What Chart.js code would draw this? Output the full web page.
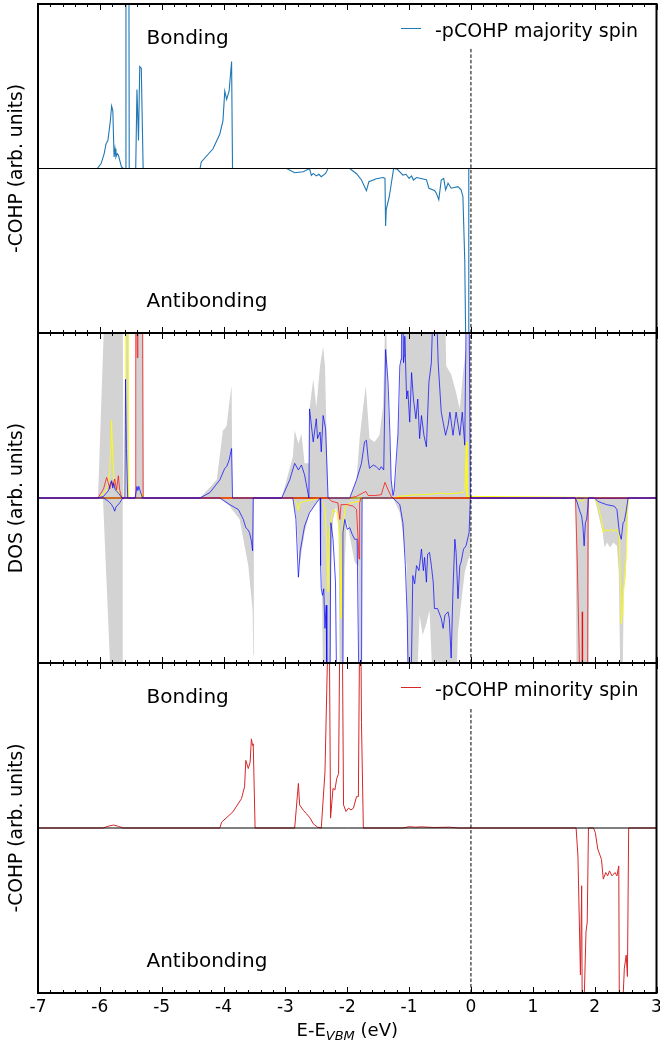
<!DOCTYPE html>
<html>
<head>
<meta charset="utf-8">
<script src="https://cdn.jsdelivr.net/npm/chart.js@4.4.0/dist/chart.umd.min.js"></script>
<style>
  body { margin: 0; background: #fff; }
  #wrap { position: relative; width: 660px; height: 1047px; }
  .panel { position: absolute; left: 0; width: 660px; }
</style>
</head>
<body>
<div id="wrap">
  <div class="panel" style="top:0;height:340px"><canvas id="cohpUpChart" width="660" height="340"></canvas></div>
  <div class="panel" style="top:326px;height:344px"><canvas id="dosChart" width="660" height="344"></canvas></div>
  <div class="panel" style="top:656px;height:391px"><canvas id="cohpDnChart" width="660" height="391"></canvas></div>
</div>
<script>
const FONT = 'DejaVu Sans';
const energyTicks = [-7, -6, -5, -4, -3, -2, -1, 0, 1, 2, 3];
const yRange = [-10, 10];   // arb. units, zero in the middle of each panel

// -pCOHP majority spin  [E, value]
const cohpUp = [
  [-7, 0], [-6.04, 0], [-5.98, 0.3], [-5.93, 0.9], [-5.90, 1.5], [-5.87, 1.7], [-5.83, 2.9], [-5.81, 3.8],
  [-5.79, 3.5], [-5.77, 0.7], [-5.755, 1.2], [-5.74, 0.7], [-5.72, 0.9], [-5.70, 0.8], [-5.65, 0.1], [-5.62, 0],
  [-5.585, 0], [-5.578, 12], [-5.53, 12], [-5.525, 0], [-5.42, 0], [-5.40, 4.8], [-5.375, 1.7], [-5.355, 6.2],
  [-5.33, 6.1], [-5.30, 0], [-4.38, 0], [-4.36, 0.4], [-4.17, 1.2], [-4.06, 2.1], [-4.01, 2.9], [-3.98, 4.7],
  [-3.95, 4.2], [-3.91, 4.7], [-3.87, 6.5], [-3.855, 0], [-2.98, 0], [-2.85, -0.26], [-2.71, -0.2], [-2.61, 0],
  [-2.58, -0.42], [-2.55, -0.3], [-2.50, -0.45], [-2.46, -0.35], [-2.42, -0.5], [-2.35, -0.3], [-2.31, 0],
  [-1.96, 0], [-1.85, -0.32], [-1.77, -0.7], [-1.69, -1.35], [-1.65, -0.8], [-1.53, -0.62], [-1.42, -0.55],
  [-1.39, -0.6], [-1.38, -3.5], [-1.37, -2.5], [-1.32, -1.7], [-1.25, 0], [-1.19, -0.05], [-1.10, -0.4],
  [-1.05, -0.35], [-1.00, -0.6], [-0.96, -0.45], [-0.93, -0.7], [-0.88, -0.55], [-0.72, -0.68], [-0.68, -1.2],
  [-0.59, -1.33], [-0.56, -1.5], [-0.52, -1.9], [-0.48, -0.7], [-0.44, -0.6], [-0.41, -1.3], [-0.37, -0.9],
  [-0.32, -1.2], [-0.21, -1.1], [-0.16, -1.3], [-0.13, -1.7], [-0.10, -5.6], [-0.08, -12], [-0.04, -12],
  [-0.035, 0], [3, 0]
];

// -pCOHP minority spin
const cohpDn = [
  [-7, 0], [-5.95, 0], [-5.85, 0.12], [-5.78, 0.18], [-5.70, 0.1], [-5.62, 0], [-4.06, 0], [-4.03, 0.36],
  [-3.85, 0.97], [-3.71, 1.78], [-3.66, 2.5], [-3.64, 4.1], [-3.60, 3.6], [-3.57, 4.0], [-3.55, 5.4],
  [-3.53, 5.0], [-3.52, 5.1], [-3.49, 0], [-2.85, 0], [-2.79, 2.7], [-2.77, 1.4], [-2.71, 1.07], [-2.66, 0.87],
  [-2.60, 0.6], [-2.55, 0.26], [-2.48, 0.05], [-2.42, 0], [-2.36, 3.4], [-2.31, 12], [-2.29, 12], [-2.27, 0.6],
  [-2.23, 2.4], [-2.20, 2.3], [-2.17, 3.0], [-2.14, 3.3], [-2.12, 12], [-2.08, 12], [-2.06, 1.4], [-2.02, 1.0],
  [-1.98, 1.2], [-1.94, 1.1], [-1.90, 1.2], [-1.85, 1.9], [-1.82, 1.9], [-1.80, 12], [-1.78, 12], [-1.77, 6.4],
  [-1.74, 0], [-1.1, 0], [-1.0, 0.08], [-0.9, 0.05], [-0.8, 0.07], [-0.6, 0.03], [-0.35, 0.05], [-0.2, 0],
  [1.70, 0], [1.73, -1.7], [1.77, -8.9], [1.79, -3.5], [1.80, -12], [1.82, -12], [1.86, -6.3], [1.88, -5.7],
  [1.90, 0], [1.98, 0], [2.01, -0.26], [2.05, -1.27], [2.11, -1.9], [2.14, -3.1], [2.18, -2.7], [2.21, -2.9],
  [2.24, -2.6], [2.28, -2.9], [2.33, -2.7], [2.36, -2.9], [2.39, -2.3], [2.40, -12], [2.44, -12], [2.48, -8.5],
  [2.51, -7.7], [2.53, -9], [2.55, 0], [3, 0]
];

// total DOS (grey), majority up / minority down
const dosTotUp = [
  [-7, 0], [-6.03, 0], [-5.92, 12], [-5.63, 12], [-5.62, 0], [-5.59, 0], [-5.58, 12], [-5.535, 12], [-5.53, 0],
  [-5.43, 0], [-5.42, 12], [-5.30, 12], [-5.29, 0], [-4.38, 0], [-4.11, 1.1], [-4.01, 4.1], [-3.98, 4.2],
  [-3.95, 4.4], [-3.90, 6.0], [-3.87, 6.8], [-3.855, 0], [-3.06, 0], [-2.98, 1.1], [-2.88, 2.5], [-2.85, 4.1],
  [-2.79, 3.3], [-2.74, 3.9], [-2.69, 2.1], [-2.62, 2.1], [-2.61, 5.4], [-2.55, 7.2], [-2.50, 5.5], [-2.44, 8.0],
  [-2.39, 9.2], [-2.36, 8.0], [-2.31, 0], [-1.96, 0], [-1.85, 1.1], [-1.80, 3.6], [-1.74, 5.6], [-1.70, 6.8],
  [-1.64, 3.6], [-1.56, 3.4], [-1.48, 3.8], [-1.42, 5.6], [-1.38, 12], [-1.34, 6.0], [-1.29, 1.1], [-1.26, 0],
  [-1.21, 1.4], [-1.15, 6.0], [-1.12, 12], [-0.42, 12], [-0.40, 8.0], [-0.32, 7.5], [-0.24, 6.4], [-0.18, 5.4],
  [-0.13, 7.5], [-0.08, 9.0], [-0.05, 12], [-0.01, 12], [0, 0], [3, 0]
];
const dosTotDn = [
  [-7, 0], [-5.95, 0], [-5.83, -10.5], [-5.64, -12], [-5.63, 0], [-4.06, 0], [-3.90, -0.5], [-3.74, -1.3],
  [-3.66, -2.9], [-3.60, -4.1], [-3.53, -6.8], [-3.52, -9.5], [-3.51, 0], [-2.88, 0], [-2.82, -1.3],
  [-2.79, -3.1], [-2.77, -4.1], [-2.74, -3.3], [-2.69, -2.1], [-2.61, -0.9], [-2.50, -0.3], [-2.44, 0],
  [-2.42, -1.0], [-2.39, -12], [-2.27, -12], [-2.26, -4.1], [-2.23, -1.3], [-2.18, -0.5], [-2.14, -1.8],
  [-2.12, -12], [-2.07, -12], [-2.04, -4.1], [-2.01, -1.3], [-1.95, -2.5], [-1.88, -3.9], [-1.82, -4.1],
  [-1.80, -12], [-1.77, -12], [-1.76, 0], [-1.26, 0], [-1.15, -0.9], [-1.10, -2.1], [-1.04, -4.1], [-1.02, -12],
  [-0.88, -12], [-0.83, -7.1], [-0.78, -8.3], [-0.72, -7.6], [-0.67, -6.8], [-0.61, -12], [-0.24, -12],
  [-0.21, -8.1], [-0.15, -6.1], [-0.10, -4.5], [-0.04, -3.7], [-0.01, -3.5], [0, 0], [1.69, 0], [1.71, -12],
  [1.90, -12], [1.91, 0], [2.00, 0], [2.03, -0.5], [2.13, -2.1], [2.16, -3.0], [2.20, -2.7], [2.25, -3.0],
  [2.30, -2.7], [2.36, -2.9], [2.39, -4.5], [2.41, -9.6], [2.42, -12], [2.45, -12], [2.47, -5.6], [2.50, -4.8],
  [2.55, 0], [3, 0]
];

// projected DOS, blue
const pdosBlueUp = [
  [-7, 0], [-6.03, 0], [-5.94, 0.1], [-5.86, 0.45], [-5.83, 0.85], [-5.81, 1.05], [-5.79, 0.6], [-5.775, 0.9],
  [-5.75, 0.5], [-5.70, 0.3], [-5.64, 0], [-5.595, 0], [-5.585, 7.2], [-5.57, 3], [-5.55, 0], [-5.43, 0],
  [-5.40, 0.7], [-5.385, 0.45], [-5.37, 0.7], [-5.35, 0.45], [-5.31, 0], [-4.38, 0], [-4.22, 0.33],
  [-4.06, 1.1], [-3.98, 1.8], [-3.95, 1.9], [-3.91, 2.3], [-3.87, 3.0], [-3.855, 0], [-3.06, 0], [-2.93, 1.1],
  [-2.85, 2.1], [-2.79, 1.7], [-2.74, 2.0], [-2.69, 1.4], [-2.62, 0], [-2.61, 5.4], [-2.55, 3.4], [-2.50, 4.8],
  [-2.48, 3.6], [-2.44, 4.0], [-2.42, 2.8], [-2.39, 5.0], [-2.35, 4.2], [-2.31, 0], [-1.96, 0], [-1.85, 1.1],
  [-1.77, 2.1], [-1.72, 3.4], [-1.69, 3.5], [-1.66, 2.3], [-1.64, 1.8], [-1.58, 2.0], [-1.53, 1.9], [-1.48, 1.7],
  [-1.45, 1.9], [-1.41, 1.7], [-1.38, 9.0], [-1.34, 7.0], [-1.31, 3.9], [-1.29, 1.1], [-1.26, 0.15],
  [-1.24, 0.55], [-1.18, 3.9], [-1.15, 8.0], [-1.13, 8.4], [-1.12, 12], [-1.10, 12], [-1.09, 8.2], [-1.08, 8.6],
  [-1.07, 9.8], [-1.04, 6.0], [-1.02, 6.5], [-0.99, 4.6], [-0.96, 7.6], [-0.93, 6.0], [-0.89, 4.8], [-0.86, 6.0],
  [-0.83, 3.6], [-0.80, 5.0], [-0.76, 3.8], [-0.72, 3.1], [-0.68, 7.0], [-0.64, 8.2], [-0.61, 12], [-0.56, 12],
  [-0.53, 8.2], [-0.48, 5.2], [-0.45, 4.6], [-0.41, 3.8], [-0.37, 4.4], [-0.34, 5.2], [-0.29, 3.8], [-0.24, 5.2],
  [-0.18, 3.8], [-0.14, 5.2], [-0.10, 3.2], [-0.075, 12], [-0.03, 12], [-0.01, 0], [3, 0]
];
const pdosBlueDn = [
  [-7, 0], [-5.94, 0], [-5.86, -0.2], [-5.81, -0.4], [-5.78, -0.6], [-5.76, -0.8], [-5.74, -0.55],
  [-5.68, -0.3], [-5.63, 0], [-4.06, 0], [-3.90, -0.4], [-3.76, -0.7], [-3.68, -1.3], [-3.64, -1.8],
  [-3.61, -1.9], [-3.58, -2.1], [-3.55, -2.6], [-3.53, -3.2], [-3.52, 0], [-2.88, 0], [-2.83, -1.3],
  [-2.79, -4.8], [-2.76, -3.2], [-2.69, -1.7], [-2.61, -0.9], [-2.50, -0.3], [-2.44, 0], [-2.43, -4.1],
  [-2.42, -5.5], [-2.40, -5.9], [-2.38, -5.5], [-2.36, -7.9], [-2.34, -6.5], [-2.33, -12], [-2.28, -12],
  [-2.265, -1.5], [-2.23, -2.5], [-2.19, -5.1], [-2.17, -12], [-2.08, -12], [-2.07, -2.1], [-2.04, -1.3],
  [-2.00, -1.9], [-1.96, -1.8], [-1.92, -2.2], [-1.88, -2.5], [-1.84, -2.5], [-1.81, -12], [-1.77, -12],
  [-1.76, 0], [-1.26, 0], [-1.15, -0.4], [-1.10, -1.5], [-1.06, -4.1], [-1.03, -7.3], [-1.01, -12],
  [-0.97, -12], [-0.94, -4.7], [-0.91, -5.2], [-0.88, -4.1], [-0.84, -4.4], [-0.80, -3.1], [-0.77, -4.4],
  [-0.75, -3.6], [-0.72, -5.1], [-0.70, -3.4], [-0.67, -3.3], [-0.64, -4.1], [-0.61, -5.1], [-0.59, -6.7],
  [-0.54, -6.7], [-0.48, -7.3], [-0.45, -7.9], [-0.42, -7.1], [-0.37, -6.9], [-0.35, -7.3], [-0.32, -9.7],
  [-0.29, -5.5], [-0.26, -2.5], [-0.24, -3.3], [-0.21, -6.1], [-0.18, -4.1], [-0.16, -3.9], [-0.12, -3.1],
  [-0.08, -2.9], [-0.03, -2.1], [-0.01, 0], [1.69, 0], [1.72, -0.3], [1.76, -0.8], [1.79, -1.1], [1.81, -1.7],
  [1.83, -2.9], [1.85, -1.5], [1.87, -1.3], [1.89, -0.6], [1.90, 0], [2.00, 0], [2.05, -0.2], [2.19, -0.4],
  [2.32, -0.5], [2.36, -0.7], [2.40, -2.1], [2.43, -2.5], [2.46, -1.5], [2.48, -1.4], [2.51, -0.8], [2.54, 0],
  [3, 0]
];

// projected DOS, red
const pdosRedUp = [
  [-7, 0], [-6.03, 0], [-5.94, 0.55], [-5.89, 1.25], [-5.865, 0.95], [-5.84, 0.55], [-5.81, 1.0],
  [-5.79, 0.75], [-5.76, 1.15], [-5.73, 0.5], [-5.70, 1.35], [-5.68, 0.5], [-5.65, 0.05], [-5.62, 0],
  [-5.43, 0], [-5.42, 12], [-5.405, 12], [-5.395, 8.5], [-5.385, 12], [-5.31, 12], [-5.30, 0], [-1.96, 0],
  [-1.85, 0.1], [-1.70, 0.4], [-1.66, 0.15], [-1.55, 0.15], [-1.45, 0.2], [-1.39, 0.95], [-1.34, 0.5],
  [-1.29, 0.1], [-1.26, 0], [3, 0]
];
const pdosRedDn = [
  [-7, 0], [-2.31, 0], [-2.25, -0.2], [-2.15, -0.3], [-2.12, -1.3], [-2.10, -0.4], [-2.0, -0.4], [-1.90, -0.5],
  [-1.85, -0.7], [-1.83, -2.1], [-1.81, -3.7], [-1.80, -0.3], [-1.78, 0], [1.69, 0], [1.72, -4], [1.765, -12],
  [1.795, -12], [1.80, -6.9], [1.805, -12], [1.885, -12], [1.895, 0], [3, 0]
];

// projected DOS, yellow
const pdosYelUp = [
  [-7, 0], [-6.03, 0], [-5.93, 0.3], [-5.87, 0.7], [-5.84, 1.55], [-5.82, 3.4], [-5.81, 4.7], [-5.80, 3.4],
  [-5.77, 1.15], [-5.75, 0.7], [-5.72, 0.55], [-5.70, 0.4], [-5.67, 0.2], [-5.62, 0], [-5.59, 0], [-5.58, 12],
  [-5.545, 12], [-5.535, 0], [-5.35, 0], [-5.33, 0.25], [-5.31, 0.3], [-5.30, 0], [-1.26, 0], [-1.15, 0.1],
  [-0.95, 0.18], [-0.80, 0.2], [-0.6, 0.25], [-0.5, 0.3], [-0.4, 0.25], [-0.2, 0.3], [-0.12, 0.35],
  [-0.10, 0.6], [-0.085, 2.0], [-0.075, 3.4], [-0.065, 0.1], [3, 0]
];
const pdosYelDn = [
  [-7, 0], [-2.88, 0], [-2.82, -0.3], [-2.79, -0.77], [-2.77, -0.3], [-2.69, -0.2], [-2.44, 0], [-2.36, -0.7],
  [-2.33, -2.9], [-2.31, -5.7], [-2.29, -2.0], [-2.26, -1.3], [-2.23, -0.7], [-2.16, -0.9], [-2.12, -2.5],
  [-2.10, -7.3], [-2.08, -2.0], [-2.03, -0.5], [-1.95, -0.3], [-1.80, -0.2], [-1.76, 0], [1.69, 0],
  [1.75, -0.15], [1.80, -0.2], [1.85, 0], [2.00, 0], [2.05, -0.4], [2.11, -1.3], [2.14, -2.1], [2.18, -1.9],
  [2.22, -2.0], [2.26, -1.9], [2.30, -2.0], [2.36, -1.9], [2.40, -2.3], [2.43, -7.6], [2.45, -6.9],
  [2.48, -5.0], [2.51, -3.6], [2.54, 0], [3, 0]
];

// guide lines
const zeroLine = [[-7, 0], [3, 0]];
const vbmLineShort = [[0, -12], [0, 7.3]];
const vbmLineFull = [[0, -12], [0, 12]];

function xy(pts) {
  return pts.map(([x, y]) => ({ x, y }));
}

function lineSet(pts, color, width, order, extra) {
  return Object.assign({
    data: xy(pts), borderColor: color, borderWidth: width, pointRadius: 0,
    fill: false, tension: 0, order: order
  }, extra || {});
}

function panelOptions(yTitle, showX, padTop, padBottom) {
  return {
    responsive: false,
    maintainAspectRatio: false,
    animation: false,
    layout: { padding: { top: padTop, bottom: padBottom, left: 0, right: 3.5 } },
    plugins: { legend: { display: false }, tooltip: { enabled: false } },
    scales: {
      x: {
        type: 'linear', min: energyTicks[0], max: energyTicks[energyTicks.length - 1], display: showX,
        grid: { display: false, drawTicks: false }, border: { display: false },
        ticks: { stepSize: 1, color: '#000', font: { family: FONT, size: 17 }, padding: 4, maxRotation: 0, autoSkip: false },
        afterFit: s => {
          s.height = showX ? 54 : 0;
          s.paddingLeft = 0;
          s.paddingRight = 0;
        }
      },
      y: {
        min: yRange[0], max: yRange[1],
        grid: { display: false }, border: { display: false },
        ticks: { display: false },
        title: { display: true, text: yTitle, color: '#000', font: { family: FONT, size: 18.7 }, padding: { top: 6, bottom: 0 } },
        afterFit: s => { s.width = 38; }
      }
    }
  };
}

// frame, inward ticks and the text inside a panel
function decor(opts) {
  return {
    id: 'decor',
    afterDraw(chart) {
      const { ctx, chartArea: a, scales: { x } } = chart;
      ctx.save();
      ctx.strokeStyle = '#000';
      ctx.lineWidth = 1;
      for (let i = 0; i <= 50; i++) {
        const px = Math.round(x.getPixelForValue(energyTicks[0] + i * 0.2)) + 0.5;
        const len = i % 5 === 0 ? 6 : 3;
        ctx.beginPath();
        ctx.moveTo(px, a.top); ctx.lineTo(px, a.top + len);
        ctx.moveTo(px, a.bottom); ctx.lineTo(px, a.bottom - len);
        ctx.stroke();
      }
      ctx.lineWidth = 2;
      ctx.strokeRect(a.left, a.top, a.right - a.left, a.bottom - a.top);

      ctx.fillStyle = '#000';
      ctx.textBaseline = 'alphabetic';
      ctx.textAlign = 'left';
      if (opts.labels) {
        ctx.font = '20px "' + FONT + '"';
        ctx.fillText('Bonding', a.left + 108.5, a.top + 40);
        ctx.fillText('Antibonding', a.left + 108.5, a.bottom - 26);
      }
      if (opts.legend) {
        ctx.strokeStyle = opts.legend.color;
        ctx.lineWidth = 1;
        ctx.beginPath();
        ctx.moveTo(401, a.top + 24.5); ctx.lineTo(421, a.top + 24.5);
        ctx.stroke();
        ctx.font = '19px "' + FONT + '"';
        ctx.fillText(opts.legend.text, 435, a.top + 33);
      }
      if (opts.xTitle) {
        const big = '18px "' + FONT + '"';
        const small = 'italic 13px "' + FONT + '"';
        const base = a.bottom + 43;
        ctx.font = big;
        const w1 = ctx.measureText('E-E').width;
        const w3 = ctx.measureText(' (eV)').width;
        ctx.font = small;
        const w2 = ctx.measureText('VBM').width;
        let cx = (a.left + a.right) / 2 - (w1 + w2 + w3) / 2;
        ctx.font = big;
        ctx.fillText('E-E', cx, base);
        ctx.font = small;
        ctx.fillText('VBM', cx + w1, base + 4);
        ctx.font = big;
        ctx.fillText(' (eV)', cx + w1 + w2, base);
      }
      ctx.restore();
    }
  };
}

const blueCOHP = '#1f77b4';
const redCOHP = '#d62728';
const dashed = { borderDash: [3.5, 2] };

new Chart(document.getElementById('cohpUpChart'), {
  type: 'line',
  data: {
    datasets: [
      lineSet(zeroLine, '#000', 1, 1),
      lineSet(vbmLineShort, '#000', 1, 0, dashed),
      lineSet(cohpUp, blueCOHP, 1.1, 2)
    ]
  },
  options: panelOptions('-COHP (arb. units)', false, 4, 7),
  plugins: [decor({ labels: true, legend: { text: '-pCOHP majority spin', color: blueCOHP } })]
});

new Chart(document.getElementById('dosChart'), {
  type: 'line',
  data: {
    datasets: [
      lineSet(vbmLineFull, '#000', 1, 0, dashed),
      lineSet(pdosBlueUp, 'rgba(0,0,255,0.7)', 1, 1),
      lineSet(pdosBlueDn, 'rgba(0,0,255,0.7)', 1, 1),
      lineSet(pdosRedUp, 'rgba(255,0,0,0.7)', 1, 2),
      lineSet(pdosRedDn, 'rgba(255,0,0,0.7)', 1, 2),
      lineSet(pdosYelUp, 'rgba(255,255,0,0.9)', 1, 3),
      lineSet(pdosYelDn, 'rgba(255,255,0,0.9)', 1, 3),
      lineSet(zeroLine, '#000', 1, 4),
      lineSet(dosTotUp, 'rgba(0,0,0,0)', 0, 5, { fill: 'origin', backgroundColor: '#d3d3d3' }),
      lineSet(dosTotDn, 'rgba(0,0,0,0)', 0, 5, { fill: 'origin', backgroundColor: '#d3d3d3' })
    ]
  },
  options: panelOptions('DOS (arb. units)', false, 7, 7),
  plugins: [decor({})]
});

new Chart(document.getElementById('cohpDnChart'), {
  type: 'line',
  data: {
    datasets: [
      lineSet(zeroLine, '#000', 1, 1),
      lineSet(vbmLineShort, '#000', 1, 0, dashed),
      lineSet(cohpDn, redCOHP, 1, 2)
    ]
  },
  options: panelOptions('-COHP (arb. units)', true, 7, 0),
  plugins: [decor({ labels: true, xTitle: true, legend: { text: '-pCOHP minority spin', color: redCOHP } })]
});
</script>
</body>
</html>
